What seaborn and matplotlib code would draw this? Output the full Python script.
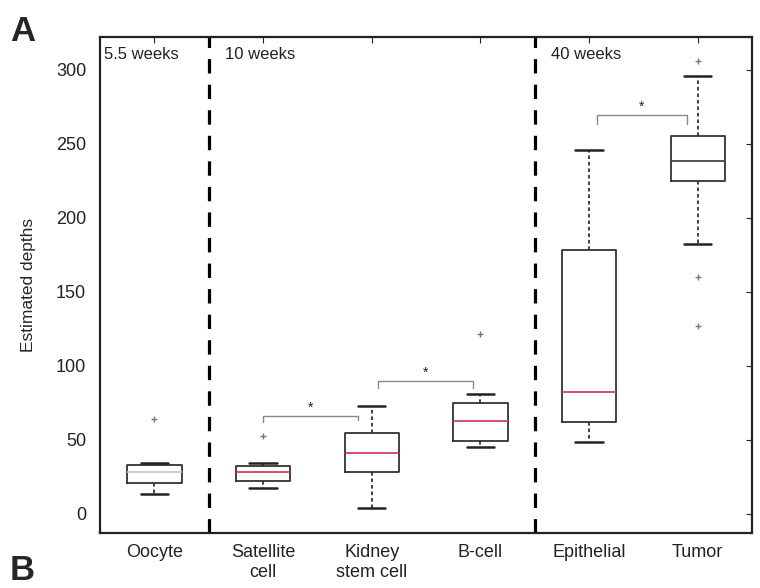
import numpy as np
import pandas as pd
import matplotlib
matplotlib.use("Agg")
import matplotlib.pyplot as plt
import seaborn as sns

# ---- data ----
categories = ["Oocyte", "Satellite\ncell", "Kidney\nstem cell", "B-cell", "Epithelial", "Tumor"]
oocyte = [13.4, 18, 20.8, 24, 28.5, 30, 32.8, 34.3, 63.8]
satellite = [17.5, 20, 22.2, 25, 28.2, 30, 32.3, 34, 52.4]
kidney = [4, 28.2, 41, 54.4, 73]
bcell = [45, 47, 49, 55, 62.5, 70, 74.6, 80.6, 121.6]
epithelial = [48.4, 61.8, 82, 178, 246]
tumor = [127, 160, 182, 224.5, 230, 235, 238.6, 243, 250, 255.4, 270, 296, 305.8]
median_colors = ["#c8c8c8", "#d2415f", "#d2415f", "#d2415f", "#d2415f", "#444444"]
period_labels = ["5.5 weeks", "10 weeks", "40 weeks"]
period_starts = [-0.5, 0.5, 3.5]
separators = [0.5, 3.5]
y_ticks = [0, 50, 100, 150, 200, 250, 300]
# significance brackets: (x_left, x_right, height, left drop, right drop)
brackets = [(1.0, 1.87, 66, 62, 63.5), (2.06, 2.93, 89.4, 84.7, 84.7), (4.07, 4.9, 269.5, 263.5, 263.5)]

groups = [oocyte, satellite, kidney, bcell, epithelial, tumor]
df = pd.DataFrame({
    "cell": np.concatenate([[c] * len(g) for c, g in zip(categories, groups)]),
    "depth": np.concatenate(groups),
})

sns.set_style("white")
plt.rcParams["font.family"] = ["Liberation Sans", "DejaVu Sans"]

fig = plt.figure(figsize=(7.6, 5.88), dpi=100)
ax = fig.add_axes([0.1316, 0.0935, 0.8579, 0.8435])

sns.boxplot(
    data=df, x="cell", y="depth", order=categories, ax=ax,
    width=0.5, fill=False, whis=1.5, color="#333333", linewidth=1.3,
    whiskerprops=dict(linestyle=(0, (2, 1.6)), linewidth=1.3, color="#333333"),
    capprops=dict(linewidth=1.8, color="#222222"),
    medianprops=dict(linewidth=1.3),
    flierprops=dict(marker="+", markersize=5, markeredgecolor="#777777", markeredgewidth=1.0),
)

# recolour medians
try:
    cont = ax.containers[0]
    for ln, col in zip(cont.medians, median_colors):
        ln.set_color(col)
except Exception:
    pass

for s in separators:
    ax.axvline(s, color="black", linestyle=(0, (4.5, 3.5)), linewidth=2.3, zorder=1)

for lab, x0 in zip(period_labels, period_starts):
    ax.text(x0 + 0.15 if x0 > -0.5 else x0 + 0.04, 310, lab, fontsize=12, color="#222222",
            va="center", ha="left")

for xl, xr, h, dl, dr in brackets:
    ax.plot([xl, xl, xr, xr], [dl, h, h, dr], color="#888888", linewidth=1.0)
    ax.text((xl + xr) / 2, h + 1, "*", ha="center", va="bottom", fontsize=10, color="#222222")

ax.set_xlim(-0.5, 5.5)
ax.set_ylim(-13, 322)
ax.set_yticks(y_ticks)
ax.set_xlabel("")
ax.set_ylabel("Estimated depths", fontsize=12.5, labelpad=14)
ax.tick_params(axis="both", which="both", direction="in", length=4, width=0.8,
               top=True, right=True, labelsize=13, colors="#222222")
ax.tick_params(axis="y", pad=10)
ax.tick_params(axis="x", pad=8)
for sp in ax.spines.values():
    sp.set_linewidth(1.6)
    sp.set_color("#222222")
    sp.set_visible(True)

fig.text(0.013, 0.946, "A", fontsize=25, fontweight="bold", va="center", ha="left")
fig.text(0.013, 0.029, "B", fontsize=25, fontweight="bold", va="center", ha="left")

fig.savefig("out.png", dpi=100)
